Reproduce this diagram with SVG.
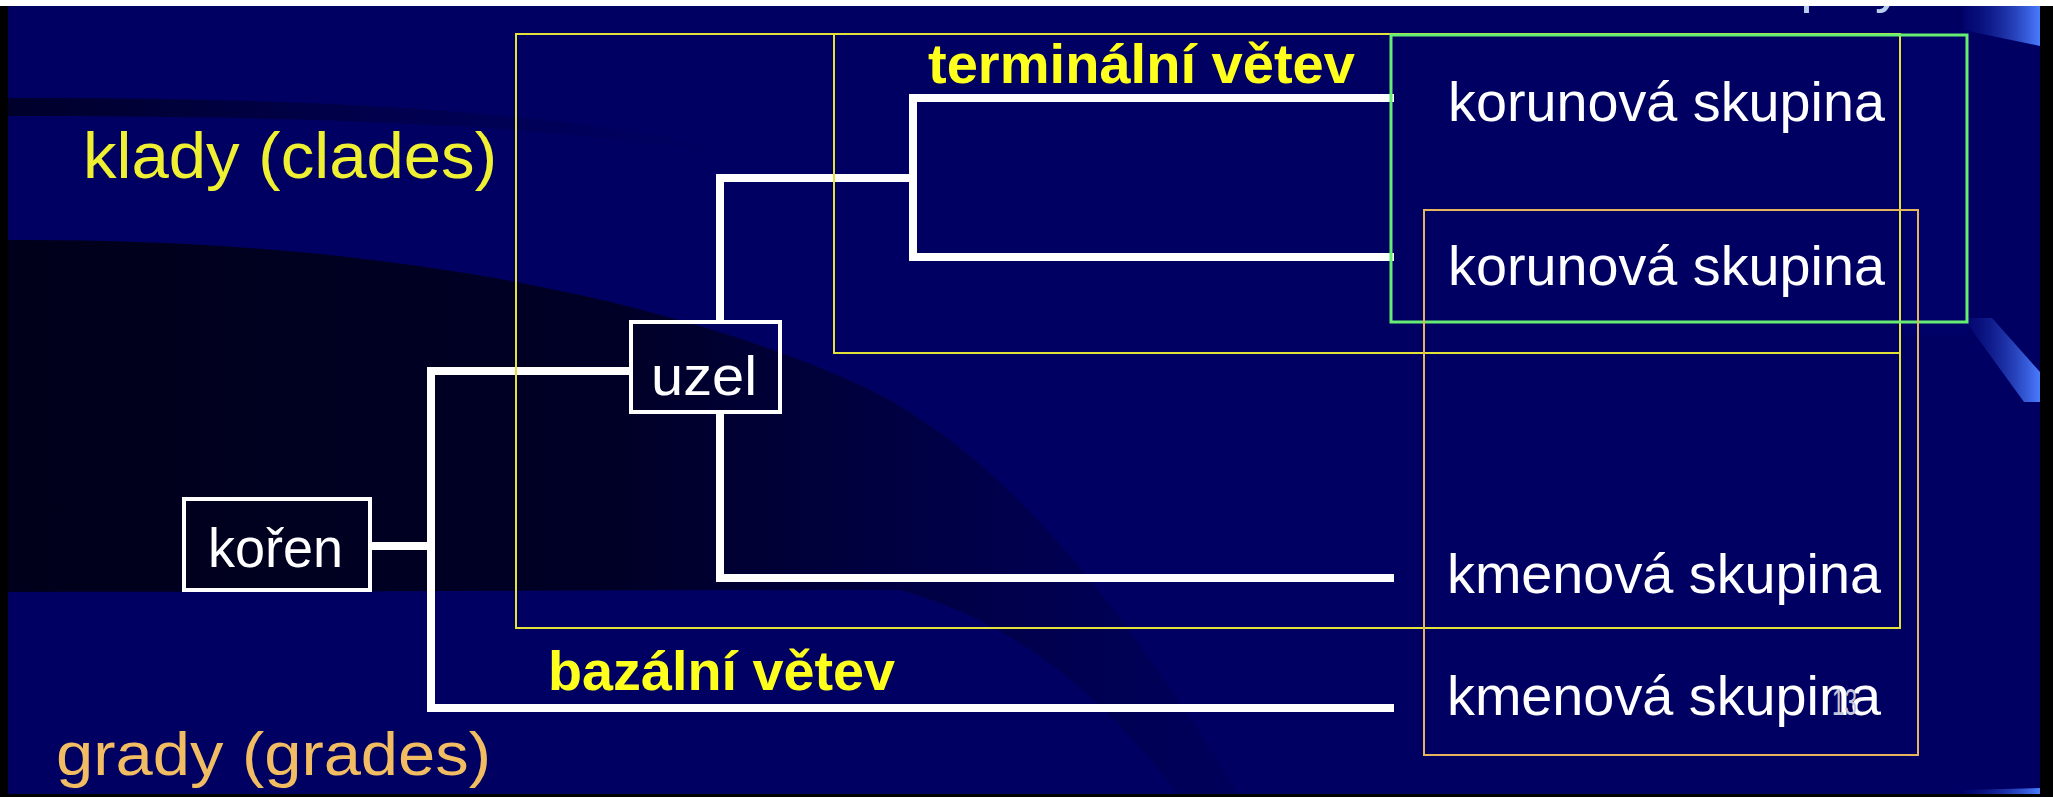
<svg xmlns="http://www.w3.org/2000/svg" width="2053" height="797" viewBox="0 0 2053 797">
  <style>
    text { font-family: "Liberation Sans", Arial, sans-serif; }
    .w { fill: #ffffff; font-size: 56px; }
    .yb { fill: #ffff1e; font-size: 56px; font-weight: bold; }
    .nodebox { fill: none; stroke: #ffffff; stroke-width: 4; }
    .branch { fill: none; stroke: #ffffff; stroke-width: 8; stroke-linejoin: miter; stroke-linecap: butt; }
    .ybox { fill: none; stroke: #e2e23a; stroke-width: 2; }
  </style>
  <defs>
    <linearGradient id="darkBand" gradientUnits="userSpaceOnUse" x1="8" y1="0" x2="1240" y2="0">
      <stop offset="0" stop-color="#00001a"/>
      <stop offset="0.5" stop-color="#000024" stop-opacity="0.95"/>
      <stop offset="0.72" stop-color="#00002c" stop-opacity="0.6"/>
      <stop offset="1" stop-color="#000040" stop-opacity="0.2"/>
    </linearGradient>
    <linearGradient id="streak" x1="0" y1="0" x2="1" y2="0">
      <stop offset="0" stop-color="#000018" stop-opacity="0.75"/>
      <stop offset="0.5" stop-color="#000020" stop-opacity="0.35"/>
      <stop offset="1" stop-color="#000030" stop-opacity="0"/>
    </linearGradient>
    <linearGradient id="ribbon" x1="0" y1="0" x2="1" y2="0">
      <stop offset="0" stop-color="#0a1490" stop-opacity="0.2"/>
      <stop offset="1" stop-color="#4a7cff"/>
    </linearGradient>
  </defs>

  <g id="background">
    <rect x="0" y="0" width="2053" height="797" fill="#000062"/>
    <path d="M8,240 C350,238 650,290 860,385 C1000,450 1120,600 1240,797 L1180,797 C1100,690 1010,620 900,590 C600,590 300,592 8,592 Z" fill="url(#darkBand)"/>
    <path d="M8,98 C300,97 550,110 720,148 L720,154 C550,124 300,116 8,116 Z" fill="url(#streak)"/>
    <rect x="1903" y="35" width="64" height="300" fill="#00007a" opacity="0.3"/>
    <polygon points="1963,6 2040,6 2040,46 1963,30" fill="url(#ribbon)"/>
    <polygon points="1963,318 1992,318 2040,372 2040,402 2024,402" fill="url(#ribbon)"/>
    <polygon points="1963,790 2040,788 2040,797 1963,797" fill="url(#ribbon)"/>
    <rect x="0" y="0" width="2053" height="6" fill="#ffffff"/>
    <rect x="0" y="6" width="8" height="791" fill="#000000"/>
    <rect x="2040" y="6" width="13" height="791" fill="#000000"/>
    <rect x="0" y="794" width="2053" height="3" fill="#000000"/>
  </g>

  <g id="cut-off-heading">
    <text x="1713" y="1" fill="#b8cff0" font-size="56">skupiny</text>
    <rect x="1700" y="0" width="340" height="6" fill="#ffffff"/>
  </g>

  <g id="connectors">
    <path class="branch" d="M372,546 H431"/>
    <path class="branch" d="M631,371 H431 V708"/>
    <path class="branch" d="M427,708 H1394" stroke-width="12"/>
    <path class="branch" d="M720,322 V178 H913"/>
    <path class="branch" d="M720,412 V578 H1394"/>
    <path class="branch" d="M1394,98 H913 V257 H1394"/>
  </g>

  <g id="group-clades">
    <rect class="ybox" x="516" y="34" width="1384" height="594"/>
  </g>
  <g id="group-terminal">
    <rect class="ybox" x="834" y="34" width="1066" height="319"/>
  </g>
  <g id="group-crown">
    <rect x="1391" y="35" width="576" height="287" fill="none" stroke="#66ee72" stroke-width="3"/>
  </g>
  <g id="group-grades">
    <rect x="1424" y="210" width="494" height="545" fill="none" stroke="#e6b45c" stroke-width="2"/>
  </g>

  <g id="node-koren">
    <rect class="nodebox" x="184" y="499" width="186" height="91"/>
    <text class="w" x="208" y="567" font-size="60" textLength="135" lengthAdjust="spacingAndGlyphs">kořen</text>
  </g>
  <g id="node-uzel">
    <rect class="nodebox" x="631" y="322" width="149" height="90"/>
    <text class="w" x="651" y="395" font-size="60" textLength="106" lengthAdjust="spacingAndGlyphs">uzel</text>
  </g>

  <g id="leaf-crown-1">
    <text class="w" x="1448" y="121" textLength="437" lengthAdjust="spacingAndGlyphs">korunová skupina</text>
  </g>
  <g id="leaf-crown-2">
    <text class="w" x="1448" y="285" textLength="437" lengthAdjust="spacingAndGlyphs">korunová skupina</text>
  </g>
  <g id="leaf-stem-1">
    <text class="w" x="1447" y="593" textLength="434" lengthAdjust="spacingAndGlyphs">kmenová skupina</text>
  </g>
  <g id="leaf-stem-2">
    <text class="w" x="1447" y="715" textLength="434" lengthAdjust="spacingAndGlyphs">kmenová skupina</text>
    <text x="1832" y="715" fill="#c4c8dc" font-size="36" textLength="25" lengthAdjust="spacingAndGlyphs">13</text>
  </g>

  <g id="labels">
    <text class="yb" x="928" y="83" textLength="427" lengthAdjust="spacingAndGlyphs">terminální větev</text>
    <text class="yb" x="548" y="690" textLength="347" lengthAdjust="spacingAndGlyphs">bazální větev</text>
    <text x="83" y="178" fill="#f0f032" font-size="64" textLength="414" lengthAdjust="spacingAndGlyphs">klady (clades)</text>
    <text x="56" y="775" fill="#f2bd62" font-size="62" textLength="435" lengthAdjust="spacingAndGlyphs">grady (grades)</text>
  </g>
</svg>
